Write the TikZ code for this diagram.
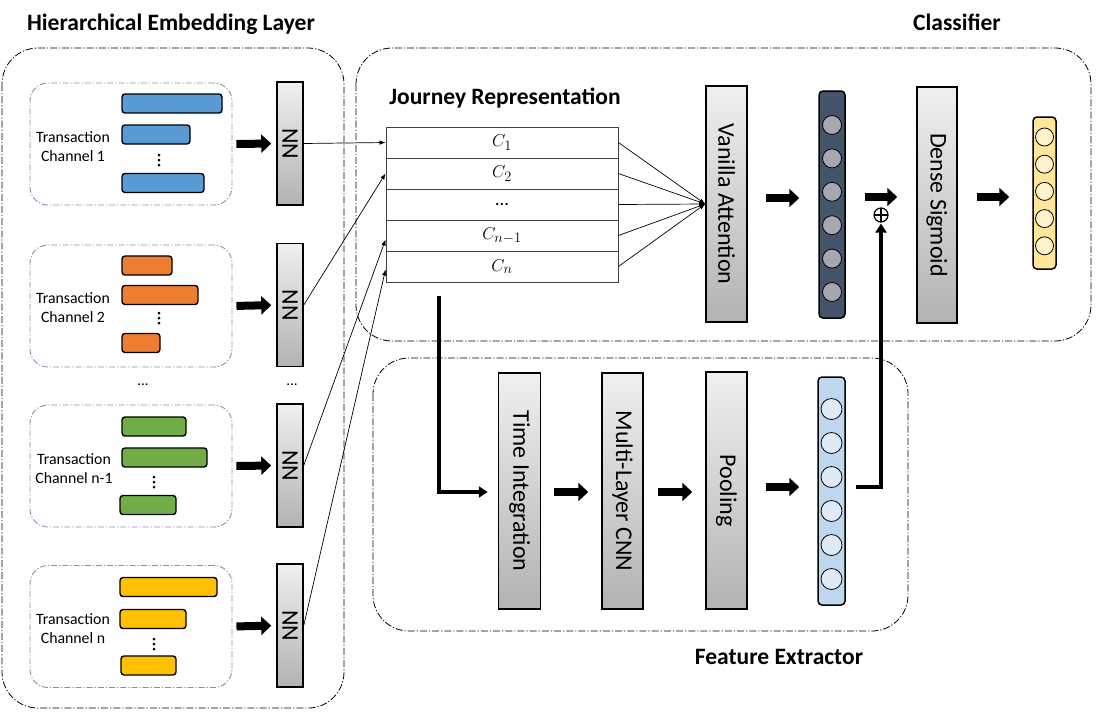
\documentclass[tikz,border=0pt]{standalone}
\usepackage{fontspec}
\setmainfont{Carlito}
\usetikzlibrary{arrows.meta}
\definecolor{cblue}{HTML}{5B9BD5}
\definecolor{corange}{HTML}{ED7D31}
\definecolor{cgreen}{HTML}{70AD47}
\definecolor{cyellow}{HTML}{FFC000}
\definecolor{chborder}{HTML}{7F93AA}
\definecolor{darkvec}{HTML}{44546A}
\definecolor{darkcirc}{HTML}{A5A9AF}
\definecolor{bluevec}{HTML}{BDD7EE}
\definecolor{bluecirc}{HTML}{DEEBF7}
\definecolor{yelvec}{HTML}{FFE699}
\definecolor{yelcirc}{HTML}{FFF2CC}
\begin{document}
\begin{tikzpicture}[x=1pt,y=-1pt,
  dashdot/.style={line width=0.8pt, dash pattern=on 7pt off 2pt on 1.2pt off 2pt},
  group/.style={dashdot, draw=black, rounded corners=36pt},
  chbox/.style={draw=chborder, line width=0.9pt, dash pattern=on 6pt off 2pt on 1.2pt off 2pt, rounded corners=18pt, minimum width=202pt, minimum height=122pt, inner sep=0pt},
  bar/.style={draw=black, line width=1.4pt, rounded corners=3pt, minimum height=19pt, inner sep=0pt},
  graybox/.style={draw=black, line width=1.5pt, top color=black!6, bottom color=black!30, inner sep=0pt},
  vlabel/.style={rotate=-90, font=\fontsize{24}{26}\selectfont},
  title/.style={font=\fontsize{23.5}{26}\selectfont\bfseries},
  chtext/.style={align=center, font=\fontsize{15.8}{19.5}\selectfont},
  dot/.style={circle, fill=black, inner sep=0pt, minimum size=3pt},
  fat/.style={line width=8pt, -{Triangle[length=10pt,width=18pt]}},
  medium/.style={line width=3.5pt, -{Triangle[length=9pt,width=11pt]}},
  thin/.style={line width=0.7pt, -{Latex[length=6pt,width=4.5pt]}},
  row/.style={draw=black!75, line width=0.9pt, minimum width=232pt, minimum height=31pt, inner sep=0pt, font=\fontsize{19}{21}\selectfont},
  vec/.style={draw=black, line width=1.5pt, rounded corners=4pt, inner sep=0pt},
  circ/.style={circle, draw=black, line width=0.8pt, inner sep=0pt},
  oplusnode/.style={circle, draw=black, line width=1.2pt, minimum size=14pt, inner sep=0pt,
    path picture={\draw[line width=1.2pt] (path picture bounding box.north) -- (path picture bounding box.south)
      (path picture bounding box.west) -- (path picture bounding box.east);}}
]
\useasboundingbox (0,0) rectangle (1115,713);

% ---------- group frames ----------
\draw[group] (2,48) rectangle (344,708);
\draw[group] (356,48) rectangle (1091,341);
\draw[group] (373,358) rectangle (908,631);

\node[title] (thel) at (171,24) {Hierarchical Embedding Layer};
\node[title] (tcls) at (957,22) {Classifier};
\node[title] (tjr) at (505,98) {Journey Representation};
\node[title] (tfe) at (779,657) {Feature Extractor};

% ---------- channels ----------
\node[chbox] (ch1) at (131,144) {};
\node[chbox] (ch2) at (131,306) {};
\node[chbox] (ch3) at (131,466) {};
\node[chbox] (ch4) at (131,626.5) {};

\node[chtext] (t1) at (73,146.5) {Transaction\\Channel 1};
\node[chtext] (t2) at (73,307.5) {Transaction\\Channel 2};
\node[chtext] (t3) at (74,468.5) {Transaction\\Channel n-1};
\node[chtext] (t4) at (73,628.5) {Transaction\\Channel n};

\node[bar, fill=cblue, minimum width=100pt] (b11) at (172,103.5) {};
\node[bar, fill=cblue, minimum width=68pt] (b12) at (156,134.5) {};
\node[bar, fill=cblue, minimum width=82pt] (b13) at (163,183) {};

\node[bar, fill=corange, minimum width=50pt] (b21) at (147,265.5) {};
\node[bar, fill=corange, minimum width=76pt] (b22) at (160,295) {};
\node[bar, fill=corange, minimum width=38pt] (b23) at (141,343) {};

\node[bar, fill=cgreen, minimum width=64pt] (b31) at (154,426.5) {};
\node[bar, fill=cgreen, minimum width=85pt] (b32) at (164.5,457.5) {};
\node[bar, fill=cgreen, minimum width=56pt] (b33) at (148,505) {};

\node[bar, fill=cyellow, minimum width=97pt] (b41) at (168.5,587) {};
\node[bar, fill=cyellow, minimum width=66pt] (b42) at (153,619) {};
\node[bar, fill=cyellow, minimum width=55pt] (b43) at (148.5,665.5) {};

% vertical dots
\foreach \x/\y in {159/160,159/318,154/482,154/644}{
  \foreach \k in {-5,0,5}{
    \node[dot] at (\x,\y+\k) {};
  }
}

\node[font=\fontsize{15}{16}\selectfont] (e1) at (143,385) {...};
\node[font=\fontsize{15}{16}\selectfont] (e2) at (292,385) {...};

% ---------- NN boxes ----------
\foreach \n/\y in {1/143.5,2/305,3/465.5,4/625.5}{
  \node[graybox, minimum width=26pt, minimum height=123pt] (nn\n) at (290,\y) {};
  \node[vlabel] at (nn\n.center) {NN};
}

\draw[fat, shorten <=4pt, shorten >=5pt] (ch1.east) -- (nn1.west);
\draw[fat, shorten <=4pt, shorten >=5pt] (ch2.east) -- (nn2.west);
\draw[fat, shorten <=4pt, shorten >=5pt] (ch3.east) -- (nn3.west);
\draw[fat, shorten <=4pt, shorten >=5pt] (ch4.east) -- (nn4.west);

% ---------- Journey representation table ----------
\node[row] (r1) at (502,142.5) {$C_1$};
\node[row] (r2) at (502,173.5) {$C_2$};
\node[row] (r3) at (502,204.5) {...};
\node[row] (r4) at (502,235.5) {$C_{n-1}$};
\node[row] (r5) at (502,266.5) {$C_n$};

\draw[thin] (nn1.east) -- (r1.west);
\draw[thin] (nn2.east) -- (r2.west);
\draw[thin] (nn3.east) -- ([yshift=-4pt]r4.west);
\draw[thin] (nn4.east) -- ([yshift=-3pt]r5.west);

% ---------- Classifier ----------
\node[graybox, minimum width=41pt, minimum height=236pt] (att) at (726.5,204) {};
\node[vlabel] at (att.center) {Vanilla Attention};

\foreach \r in {r1,r2,r3,r4,r5}{
  \draw[thin] (\r.east) -- (att.west);
}

\node[vec, fill=darkvec, minimum width=26pt, minimum height=227pt] (dv) at (832,204.5) {};
\foreach \i in {0,...,5}{
  \node[circ, fill=darkcirc, minimum size=19pt] (dc\i) at (832,125+33.4*\i) {};
}

\node[graybox, minimum width=40pt, minimum height=236pt] (ds) at (937,205) {};
\node[vlabel] at (ds.center) {Dense Sigmoid};

\node[vec, fill=yelvec, minimum width=23pt, minimum height=152pt] (yv) at (1044.5,193) {};
\foreach \i in {0,...,4}{
  \node[circ, fill=yelcirc, minimum size=18pt] (yc\i) at (1044.5,137+27.2*\i) {};
}

\draw[fat, shorten <=18pt, shorten >=19pt] (att.east |- 0,198) -- (dv.west |- 0,198);
\draw[fat, shorten <=19pt, shorten >=19pt] (dv.east |- 0,197) -- (ds.west |- 0,197);
\draw[fat, shorten <=19pt, shorten >=23pt] (ds.east |- 0,197) -- (yv.west |- 0,197);

\node[oplusnode] (op) at (881,215) {};

% ---------- Feature extractor ----------
\node[graybox, minimum width=42pt, minimum height=236pt] (ti) at (519.5,491) {};
\node[vlabel] at (ti.center) {Time Integration};
\node[graybox, minimum width=41pt, minimum height=236pt] (cnn) at (622.5,491) {};
\node[vlabel] at (cnn.center) {Multi-Layer CNN};
\node[graybox, minimum width=41pt, minimum height=237pt] (pl) at (726.5,490.5) {};
\node[vlabel] at (pl.center) {Pooling};

\node[vec, fill=bluevec, minimum width=27pt, minimum height=228pt] (bv) at (831.5,491) {};
\foreach \i in {0,...,5}{
  \node[circ, fill=bluecirc, minimum size=21pt] (bc\i) at (831.5,409+34*\i) {};
}

\draw[fat, shorten <=13pt, shorten >=13pt] (ti.east |- 0,492) -- (cnn.west |- 0,492);
\draw[fat, shorten <=14pt, shorten >=13pt] (cnn.east |- 0,492) -- (pl.west |- 0,492);
\draw[fat, shorten <=18pt, shorten >=18pt] (pl.east |- 0,487) -- (bv.west |- 0,487);

\draw[medium, shorten <=14pt, shorten >=10pt] (r5.south -| 439,0) |- (ti.west |- 0,492);
\draw[medium, shorten <=10pt, shorten >=1pt] (bv.east |- 0,487) -| (op.south);

\end{tikzpicture}
\end{document}
